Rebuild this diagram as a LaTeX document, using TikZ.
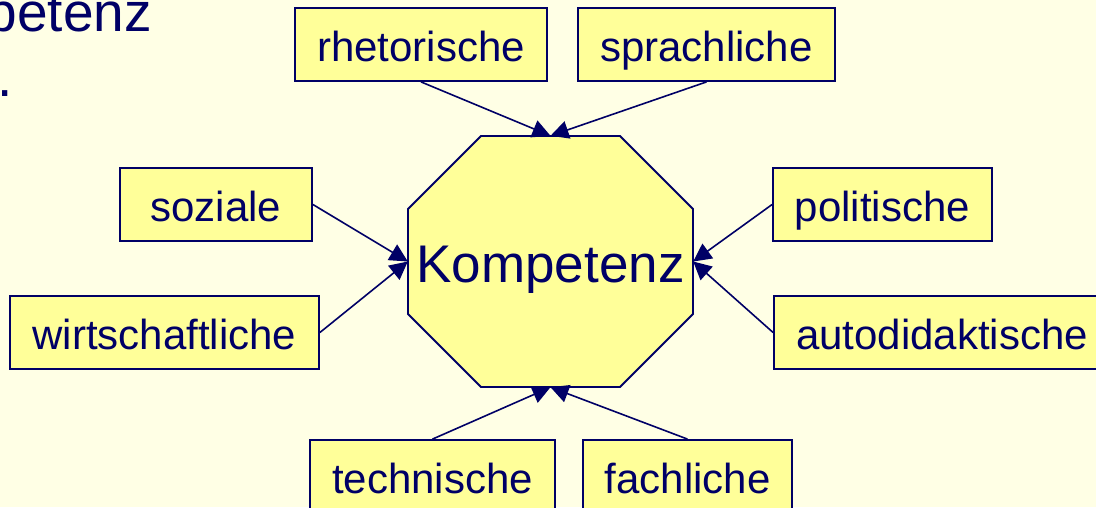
\documentclass[tikz,border=0pt]{standalone}
\usepackage{fontspec}
\setmainfont{Liberation Sans}
\usetikzlibrary{arrows.meta,calc}
\definecolor{bgcream}{RGB}{255,255,229}
\definecolor{boxfill}{RGB}{255,255,153}
\definecolor{navy}{RGB}{0,0,102}
\begin{document}
\begin{tikzpicture}[x=1pt,y=-1pt,
  term/.style={draw=navy,line width=1.8pt,fill=boxfill,text=navy,
    font=\fontsize{42}{48}\selectfont,inner sep=0pt,
    minimum height=73pt,text height=34pt,text depth=0pt},
  link/.style={draw=navy,line width=1.6pt,
    -{Triangle[length=18pt,width=18pt]}},
  headtext/.style={inner sep=0pt,text=navy,font=\fontsize{55}{62}\selectfont},
]
% page and background
\fill[bgcream] (0,0) rectangle (1096,507);
\clip (0,0) rectangle (1096,507);

% heading remnants at the upper left
\node[headtext,anchor=base east] (head) at (152,31) {petenz};
\node[headtext,anchor=base west] (dot) at (-3,96) {.};

% central octagon
\coordinate (o1) at (481,136);
\coordinate (o2) at (620,136);
\coordinate (o3) at (693,209);
\coordinate (o4) at (693,314);
\coordinate (o5) at (620,387);
\coordinate (o6) at (481,387);
\coordinate (o7) at (408,314);
\coordinate (o8) at (408,209);
\filldraw[fill=boxfill,draw=navy,line width=1.8pt]
  (o1) -- (o2) -- (o3) -- (o4) -- (o5) -- (o6) -- (o7) -- (o8) -- cycle;
\node[inner sep=0pt,minimum width=285pt,minimum height=251pt,
  text=navy,font=\fontsize{53}{60}\selectfont,text height=41pt,text depth=0pt]
  (k) at (550.5,261.5) {Kompetenz};

% surrounding terms
\node[term,minimum width=252pt] (rhe) at (421,44.5) {rhetorische};
\node[term,minimum width=257pt] (spr) at (706.5,44.5) {sprachliche};
\node[term,minimum width=192pt] (soz) at (216,204.5) {soziale};
\node[term,minimum width=309pt] (wir) at (164.5,332.5) {wirtschaftliche};
\node[term,minimum width=219pt] (pol) at (882.5,204.5) {politische};
\node[term,minimum width=336pt] (aut) at (942,332.5) {autodidaktische};
\node[term,minimum width=245pt] (tec) at (432.5,476.5) {technische};
\node[term,minimum width=209pt] (fac) at (687.5,476.5) {fachliche};

% connectors into the octagon
\draw[link] (rhe.south) -- (k.north);
\draw[link] (spr.south) -- (k.north);
\draw[link] (soz.east) -- (k.west);
\draw[link] (wir.east) -- (k.west);
\draw[link] (pol.west) -- (k.east);
\draw[link] (aut.west) -- (k.east);
\draw[link] (tec.north) -- (k.south);
\draw[link] (fac.north) -- (k.south);
\end{tikzpicture}
\end{document}
